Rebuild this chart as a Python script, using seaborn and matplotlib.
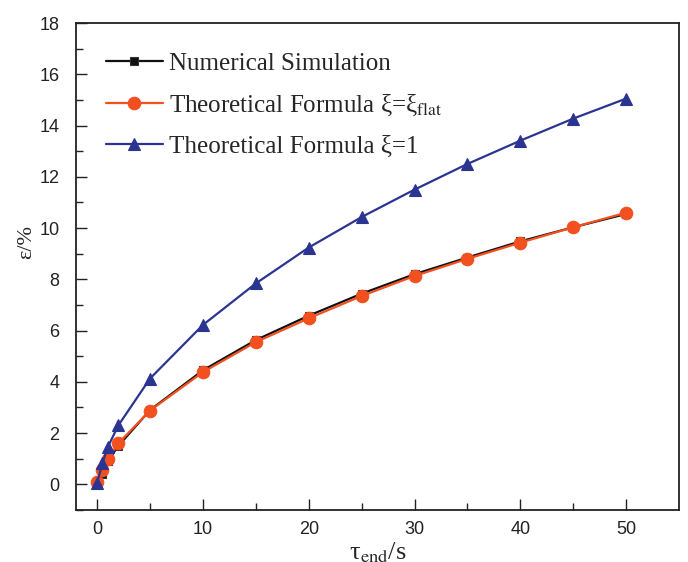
import numpy as np
import pandas as pd
import matplotlib
matplotlib.use("Agg")
import matplotlib.pyplot as plt
import seaborn as sns

# ---- data ----
tau_end = [0, 0.5, 1, 2, 5, 10, 15, 20, 25, 30, 35, 40, 45, 50]
numerical = [0.05, 0.40, 0.90, 1.50, 2.90, 4.45, 5.63, 6.58, 7.44, 8.20, 8.85, 9.48, 10.03, 10.55]
theory_flat = [0.10, 0.55, 1.00, 1.60, 2.88, 4.38, 5.55, 6.48, 7.35, 8.13, 8.80, 9.43, 10.03, 10.60]
theory_one = [0.05, 0.83, 1.45, 2.30, 4.13, 6.22, 7.84, 9.24, 10.43, 11.50, 12.50, 13.41, 14.27, 15.05]

labels = ["Numerical Simulation",
          r"Theoretical Formula ξ=ξ$_{\mathrm{flat}}$",
          "Theoretical Formula ξ=1"]
colors = ["#111111", "#F2501F", "#2B3591"]
markers = ["s", "o", "^"]
msizes = [6, 9, 9]

x_ticks = [0, 10, 20, 30, 40, 50]
y_ticks = [0, 2, 4, 6, 8, 10, 12, 14, 16, 18]

sns.set_style("ticks")
plt.rcParams["font.family"] = ["Liberation Serif", "DejaVu Serif"]
plt.rcParams["mathtext.fontset"] = "stix"

fig = plt.figure(figsize=(6.88, 5.62), dpi=100)
ax = fig.add_axes([76/688, 1-510/562, (679-76)/688, (510-23)/562])

series = [numerical, theory_flat, theory_one]
for vals, lab, c, m, ms in zip(series, labels, colors, markers, msizes):
    df = pd.DataFrame({"x": tau_end, "y": vals})
    sns.lineplot(data=df, x="x", y="y", ax=ax, color=c, marker=m, markersize=ms,
                 markeredgecolor=c if m != "s" else "#333333", markeredgewidth=0.8,
                 linewidth=1.6, label=lab)

ax.set_xlim(-2, 55)
ax.set_ylim(-1, 18)
ax.set_xticks(x_ticks)
ax.set_yticks(y_ticks)
ax.set_xticks(np.arange(5, 55, 10), minor=True)
ax.set_yticks(np.arange(-1, 18, 2), minor=True)
ax.tick_params(which="both", direction="in", top=False, right=False, width=1.0, color="#222222")
ax.tick_params(which="major", length=8)
ax.tick_params(which="minor", length=5)
for lbl in ax.get_xticklabels() + ax.get_yticklabels():
    lbl.set_fontfamily("Liberation Sans")
    lbl.set_fontsize(13)
    lbl.set_color("#222222")
ax.tick_params(axis="x", pad=8)
ax.tick_params(axis="y", pad=12)
for sp in ax.spines.values():
    sp.set_visible(True)
    sp.set_linewidth(1.3)
    sp.set_color("#222222")

ax.set_xlabel(r"τ$_{\mathrm{end}}$/s", fontsize=19)
ax.set_ylabel("ε/%", fontsize=16)
ax.xaxis.set_label_coords(0.5, -0.062)
ax.yaxis.set_label_coords(-0.066, 0.55)

leg = ax.legend(loc="upper left", bbox_to_anchor=(0.02, 0.975), frameon=False,
                fontsize=18, handlelength=2.3, handletextpad=0.25, labelspacing=0.69,
                borderaxespad=0.3)

fig.savefig("out.png", dpi=100)
